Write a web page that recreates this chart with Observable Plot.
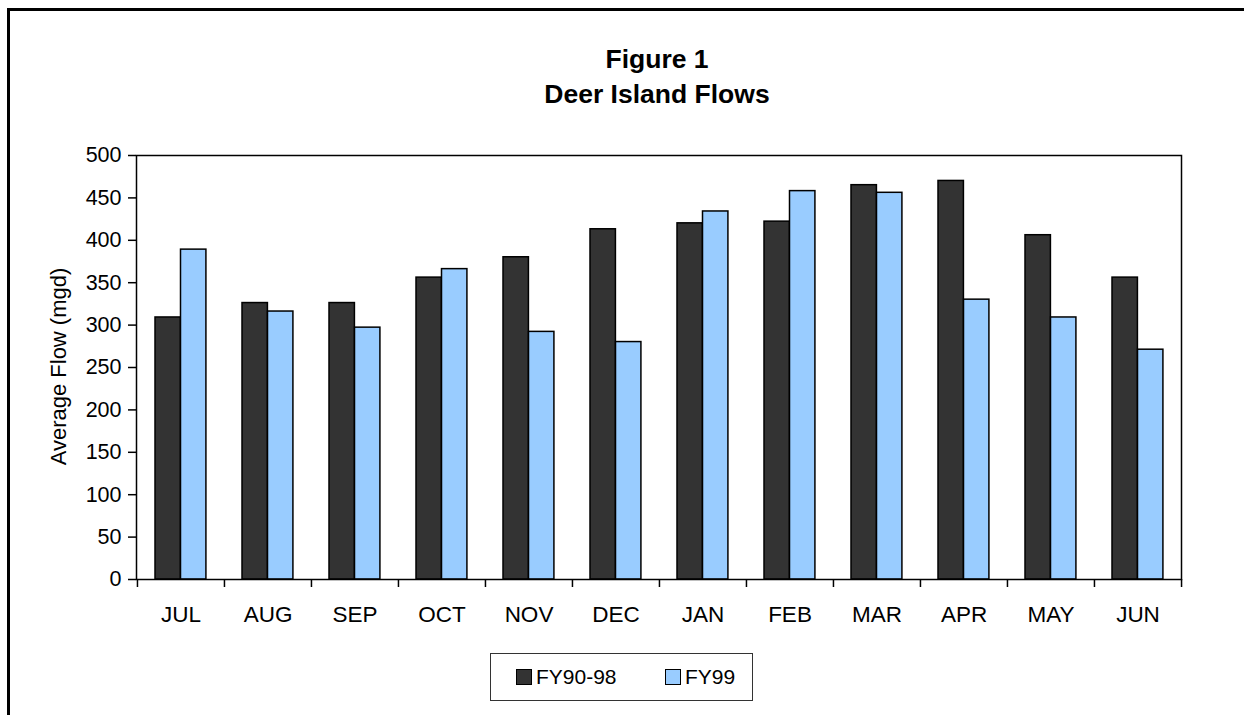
<!DOCTYPE html>
<html>
<head>
<meta charset="utf-8">
<script src="https://cdn.jsdelivr.net/npm/d3@7"></script>
<script src="https://cdn.jsdelivr.net/npm/@observablehq/plot@0.6"></script>
<style>
  body { margin: 0; background: #fff; font-family: "Liberation Sans", Arial, sans-serif; }
  #wrap { position: relative; width: 1244px; height: 715px; overflow: hidden; background: #fff; }
  #border { position: absolute; left: 7px; top: 8px; width: 1400px; height: 900px; border-left: 3px solid #000; border-top: 3px solid #000; }
  .title { position: absolute; left: 457px; width: 400px; text-align: center; font-weight: bold; font-size: 26.5px; line-height: 26px; letter-spacing: 0px; color: #000; white-space: nowrap; }
  #ylabel { position: absolute; left: -92px; top: 356px; width: 300px; height: 21px; line-height: 21px; font-size: 22px; text-align: center; transform: rotate(-90deg); transform-origin: 150px 10.5px; white-space: nowrap; color: #000; letter-spacing: 0px; }
  #chart { position: absolute; left: 0; top: 0; }
  #legend { position: absolute; left: 490px; top: 653px; width: 261px; height: 46px; border: 1px solid #333; background: #fff; }
  .item { position: absolute; top: 0; height: 46px; display: flex; align-items: center; font-size: 21px; letter-spacing: 0px; color: #000; }
  .sw { width: 14px; height: 14px; border: 1px solid #000; margin-right: 4px; }
</style>
</head>
<body>
<div id="wrap">
  <div id="border"></div>
  <div id="chart"></div>
  <div class="title" id="t1" style="top:46px">Figure 1</div>
  <div class="title" id="t2" style="top:81px">Deer Island Flows</div>
  <div id="ylabel">Average Flow (mgd)</div>
  <div id="legend"></div>
</div>
<script>
const months = ["JUL", "AUG", "SEP", "OCT", "NOV", "DEC", "JAN", "FEB", "MAR", "APR", "MAY", "JUN"];
const fy9098 = [309, 326, 326, 356, 380, 413, 420, 422, 465, 470, 406, 356];
const fy99 = [389, 316, 297, 366, 292, 280, 434, 458, 456, 330, 309, 271];
const seriesNames = ["FY90-98", "FY99"];
const seriesColors = ["#333333", "#99CCFF"];
const yTicks = [0, 50, 100, 150, 200, 250, 300, 350, 400, 450, 500];
const yLabel = "Average Flow (mgd)";

const W = 1244, H = 715;
const mL = 136, mR = 63, mT = 155, mB = 136;
const bw = (W - mL - mR) / months.length;
const barW = 25.5, outer = 18;

const dark = months.map((m, i) => ({month: m, value: fy9098[i]}));
const light = months.map((m, i) => ({month: m, value: fy99[i]}));

const chart = Plot.plot({
  width: W, height: H,
  marginLeft: mL, marginRight: mR, marginTop: mT, marginBottom: mB,
  style: {fontFamily: '"Liberation Sans", Arial, sans-serif', fontSize: "21px", color: "#000", background: "transparent"},
  x: {type: "band", domain: months, padding: 0, axis: null},
  y: {domain: [0, 500], axis: null},
  marks: [
    Plot.barY(dark, {x: "month", y: "value", fill: seriesColors[0], stroke: "#000", strokeWidth: 1.5,
      insetLeft: outer, insetRight: bw - outer - barW}),
    Plot.barY(light, {x: "month", y: "value", fill: seriesColors[1], stroke: "#000", strokeWidth: 1.5,
      insetLeft: outer + barW, insetRight: bw - outer - 2 * barW}),
    Plot.frame({stroke: "#000", strokeWidth: 1.5}),
    Plot.axisY({ticks: yTicks, tickSize: 8, tickPadding: 7, tickFormat: d => String(d), fontSize: 21.5, label: null, strokeWidth: 1.5}),
    Plot.axisX({tickSize: 0, tickPadding: 27, fontSize: 22.5, label: null}),
    Plot.ruleX(months, {x: d => d, dx: -bw / 2, y1: 0, y2: 0, insetTop: 8, stroke: "#000", strokeWidth: 1.5}),
    Plot.ruleX([months[months.length - 1]], {x: d => d, dx: bw / 2, y1: 0, y2: 0, insetTop: 8, stroke: "#000", strokeWidth: 1.5})
  ]
});
document.getElementById("chart").appendChild(chart);
document.getElementById("ylabel").textContent = yLabel;

const legend = document.getElementById("legend");
const itemLeft = [25, 174];
seriesNames.forEach((name, i) => {
  const it = document.createElement("div");
  it.className = "item";
  it.style.left = itemLeft[i] + "px";
  const sw = document.createElement("div");
  sw.className = "sw";
  sw.style.background = seriesColors[i];
  const tx = document.createElement("span");
  tx.textContent = name;
  it.appendChild(sw);
  it.appendChild(tx);
  legend.appendChild(it);
});
</script>
</body>
</html>
